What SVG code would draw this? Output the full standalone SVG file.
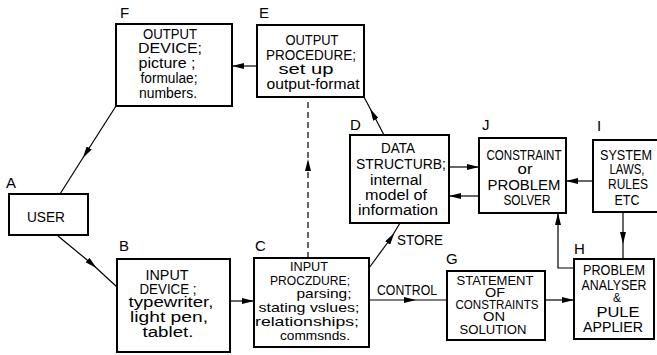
<svg xmlns="http://www.w3.org/2000/svg" width="657" height="355" viewBox="0 0 657 355">
<defs>
<marker id="ah" viewBox="0 0 12 6" refX="12" refY="3" markerWidth="12" markerHeight="6" markerUnits="userSpaceOnUse" orient="auto">
<path d="M0,0 L12,3 L0,6 z" fill="#000"/>
</marker>
<marker id="am" viewBox="0 0 12 6" refX="6" refY="3" markerWidth="12" markerHeight="6" markerUnits="userSpaceOnUse" orient="auto">
<path d="M0,0 L12,3 L0,6 z" fill="#000"/>
</marker>
</defs>
<style>
.box{fill:#fff;stroke:#000;stroke-width:2}
text{font-family:"Liberation Sans",Arial,sans-serif;font-size:14px;fill:#000;text-anchor:middle}
.lbl{font-size:15px;text-anchor:start}
.s{font-size:13px}
.t{font-size:12px}
.b{font-size:15px}
.c path{fill:none;stroke:#000;stroke-width:1.2}
.e{marker-end:url(#ah)}
.m{marker-mid:url(#am)}
</style>
<rect width="657" height="355" fill="#fff"/>
<g class="c" id="connectors">
<path class="m" d="M116,106 L86,153 L60,194"/>
<path class="m" d="M58,236 L92,264 L117,287"/>
<path class="e" d="M230,301 L254,301"/>
<path class="m" d="M369,300 L410,300 L447,300"/>
<path class="e" d="M257,66 L232,66"/>
<path class="m" d="M308,258 L308,165 L308,97" style="stroke-dasharray:6,4"/>
<path class="m" d="M384,135 L373,114 L364,97"/>
<path class="m" d="M369,268 L391,238 L400,223"/>
<path class="e" d="M449,167 L479,167"/>
<path class="e" d="M479,196 L449,196"/>
<path class="e" d="M593,181 L566,181"/>
<path class="m" d="M623,212 L623,238 L623,259"/>
<path class="e" d="M574,268 L558,268 L558,213"/>
<path class="e" d="M545,300 L574,300"/>
</g>
<g id="F">
<text class="lbl" x="120" y="18">F</text>
<rect class="box" x="116" y="24" width="116" height="82"/>
<text x="170" y="39" textLength="54" lengthAdjust="spacingAndGlyphs">OUTPUT</text>
<text x="170" y="53" textLength="64" lengthAdjust="spacingAndGlyphs">DEVICE;</text>
<text x="167" y="68" textLength="57" lengthAdjust="spacingAndGlyphs">picture ;</text>
<text x="169" y="83" textLength="57" lengthAdjust="spacingAndGlyphs">formulae;</text>
<text x="168" y="98" textLength="58" lengthAdjust="spacingAndGlyphs">numbers.</text>
</g>
<g id="E">
<text class="lbl" x="259" y="18">E</text>
<rect class="box" x="257" y="25" width="107" height="72"/>
<text x="312" y="45" textLength="53" lengthAdjust="spacingAndGlyphs">OUTPUT</text>
<text x="311" y="60" textLength="90" lengthAdjust="spacingAndGlyphs">PROCEDURE;</text>
<text x="306" y="74" textLength="55" lengthAdjust="spacingAndGlyphs">set up</text>
<text x="313" y="89" textLength="93" lengthAdjust="spacingAndGlyphs">output-format</text>
</g>
<g id="A">
<text class="lbl" x="6" y="188">A</text>
<rect class="box" x="9" y="194" width="79" height="41"/>
<text x="46" y="222" textLength="38" lengthAdjust="spacingAndGlyphs">USER</text>
</g>
<g id="B">
<text class="lbl" x="119" y="251">B</text>
<rect class="box" x="117" y="259" width="113" height="93"/>
<text x="167" y="280" textLength="43" lengthAdjust="spacingAndGlyphs">INPUT</text>
<text x="168" y="294" textLength="57" lengthAdjust="spacingAndGlyphs">DEVICE ;</text>
<text x="171" y="307" textLength="85" lengthAdjust="spacingAndGlyphs">typewriter,</text>
<text x="169" y="322" textLength="78" lengthAdjust="spacingAndGlyphs">light pen,</text>
<text x="168" y="337" textLength="51" lengthAdjust="spacingAndGlyphs">tablet.</text>
</g>
<g id="C">
<text class="lbl" x="255" y="251">C</text>
<rect class="box" x="254" y="258" width="115" height="89"/>
<text class="s" x="309" y="271" textLength="38" lengthAdjust="spacingAndGlyphs">INPUT</text>
<text class="s" x="310" y="285" textLength="80" lengthAdjust="spacingAndGlyphs">PROCZDURE;</text>
<text class="s" x="324" y="298" textLength="55" lengthAdjust="spacingAndGlyphs">parsing;</text>
<text class="s" x="309" y="312" textLength="101" lengthAdjust="spacingAndGlyphs">stating vslues;</text>
<text class="s" x="307" y="326" textLength="104" lengthAdjust="spacingAndGlyphs">relationships;</text>
<text class="s" x="315" y="340" textLength="70" lengthAdjust="spacingAndGlyphs">commsnds.</text>
</g>
<g id="D">
<text class="lbl" x="350" y="130">D</text>
<rect class="box" x="350" y="135" width="99" height="88"/>
<text x="398" y="153" textLength="34" lengthAdjust="spacingAndGlyphs">DATA</text>
<text x="401" y="169" textLength="90" lengthAdjust="spacingAndGlyphs">STRUCTURB;</text>
<text x="396" y="185" textLength="52" lengthAdjust="spacingAndGlyphs">internal</text>
<text x="396" y="200" textLength="62" lengthAdjust="spacingAndGlyphs">model of</text>
<text x="398" y="215" textLength="80" lengthAdjust="spacingAndGlyphs">information</text>
</g>
<g id="J">
<text class="lbl" x="482" y="130">J</text>
<rect class="box" x="479" y="138" width="87" height="75"/>
<text class="b" x="524" y="160" textLength="75" lengthAdjust="spacingAndGlyphs">CONSTRAINT</text>
<text x="525" y="174" textLength="15" lengthAdjust="spacingAndGlyphs">or</text>
<text class="b" x="524" y="190" textLength="73" lengthAdjust="spacingAndGlyphs">PROBLEM</text>
<text class="b" x="527" y="205" textLength="47" lengthAdjust="spacingAndGlyphs">SOLVER</text>
</g>
<g id="I">
<text class="lbl" x="597" y="131">I</text>
<rect class="box" x="593" y="140" width="66" height="72"/>
<text x="626" y="160" textLength="52" lengthAdjust="spacingAndGlyphs">SYSTEM</text>
<text x="627" y="174" textLength="35" lengthAdjust="spacingAndGlyphs">LAWS,</text>
<text x="628" y="189" textLength="40" lengthAdjust="spacingAndGlyphs">RULES</text>
<text x="627" y="205" textLength="25" lengthAdjust="spacingAndGlyphs">ETC</text>
</g>
<g id="G">
<text class="lbl" x="446" y="264">G</text>
<rect class="box" x="447" y="271" width="98" height="69"/>
<text class="t" x="495" y="285" textLength="77" lengthAdjust="spacingAndGlyphs">STATEMENT</text>
<text class="t" x="495" y="297" textLength="20" lengthAdjust="spacingAndGlyphs">OF</text>
<text class="t" x="497" y="309" textLength="83" lengthAdjust="spacingAndGlyphs">CONSTRAINTS</text>
<text class="t" x="494" y="321" textLength="22" lengthAdjust="spacingAndGlyphs">ON</text>
<text class="t" x="493" y="334" textLength="67" lengthAdjust="spacingAndGlyphs">SOLUTION</text>
</g>
<g id="H">
<text class="lbl" x="574" y="254">H</text>
<rect class="box" x="574" y="259" width="80" height="80"/>
<text x="614" y="275" textLength="62" lengthAdjust="spacingAndGlyphs">PROBLEM</text>
<text x="614" y="290" textLength="65" lengthAdjust="spacingAndGlyphs">ANALYSER</text>
<text class="t" x="617" y="302">&amp;</text>
<text x="618" y="317" textLength="43" lengthAdjust="spacingAndGlyphs">PULE</text>
<text x="613" y="332" textLength="60" lengthAdjust="spacingAndGlyphs">APPLIER</text>
</g>
<g id="labels">
<text x="407" y="295" textLength="60" lengthAdjust="spacingAndGlyphs">CONTROL</text>
<text x="420" y="245" textLength="46" lengthAdjust="spacingAndGlyphs">STORE</text>
</g>
</svg>
